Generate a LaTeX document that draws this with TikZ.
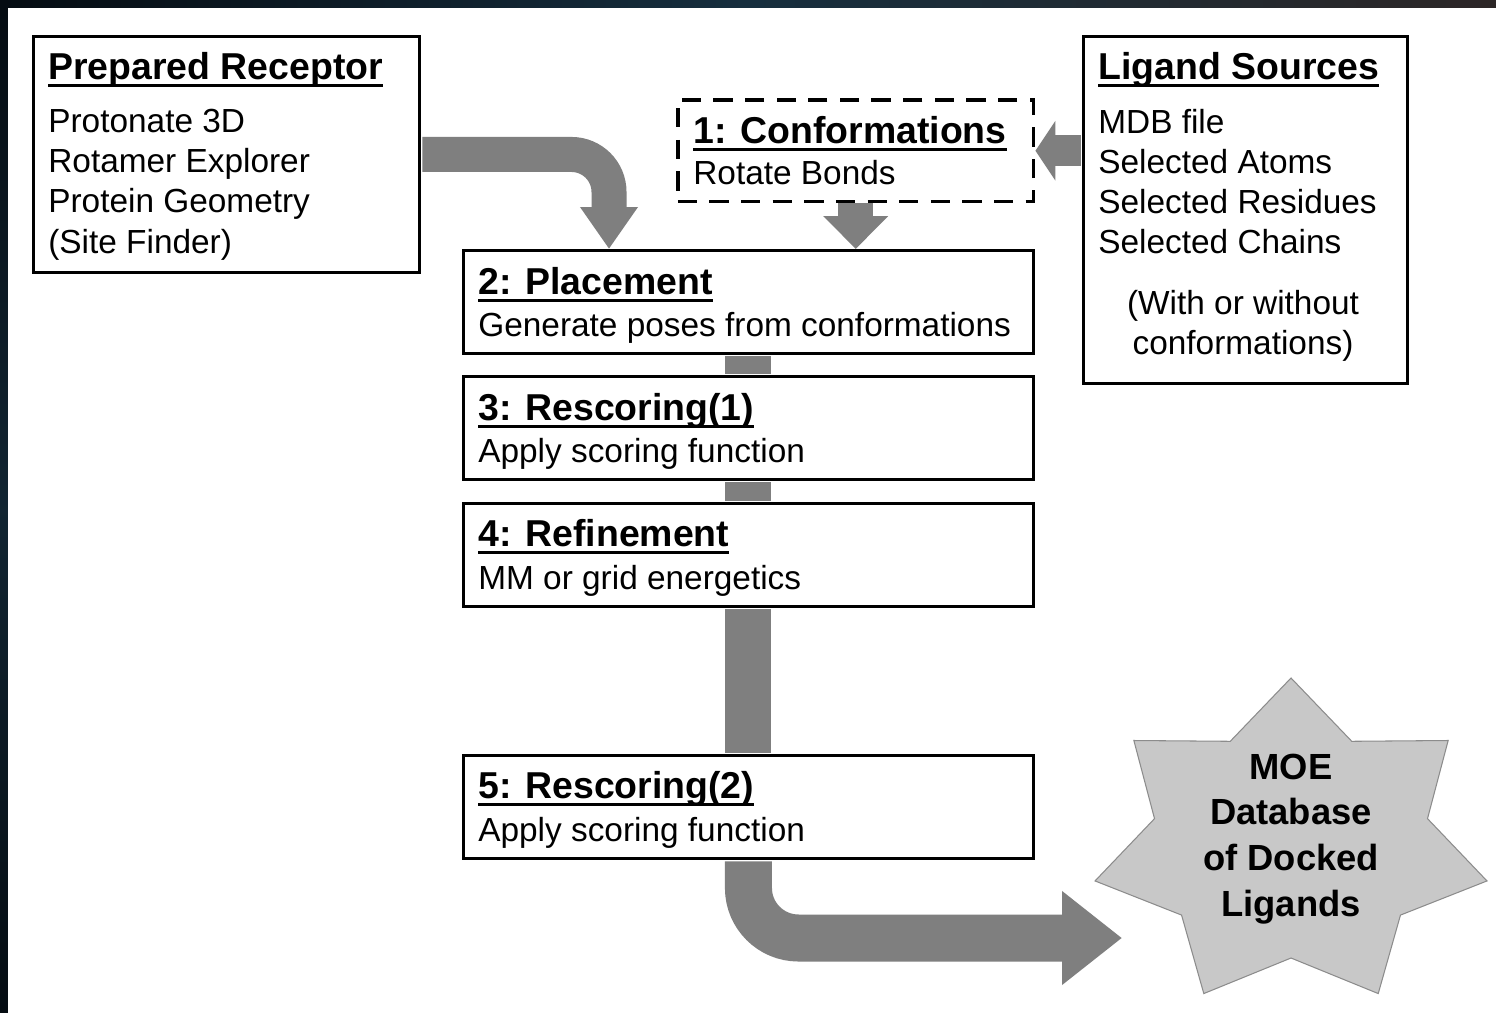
\documentclass[tikz,border=0pt]{standalone}
\usepackage{fontspec}
\setmainfont{Liberation Sans}
\usepackage{tikz}
\usetikzlibrary{arrows.meta, positioning}
\definecolor{flowgray}{RGB}{127,127,127}
\definecolor{stargray}{RGB}{200,200,200}
\definecolor{starline}{RGB}{140,140,140}
\definecolor{bgdark}{RGB}{5,12,18}
\definecolor{bgteal}{RGB}{22,46,62}
\definecolor{bgbrown}{RGB}{44,38,38}

% bold title with a heavy underline
\newcommand{\steptitle}[1]{\setbox0\hbox{#1}\rlap{\rule[-4.2pt]{\wd0}{1.8pt}}\box0}

\tikzset{
  box/.style={draw, line width=1.7pt, fill=white, anchor=north west, inner sep=0pt},
  dbox/.style={box, line width=2pt, dash pattern=on 11pt off 7pt},
  ttl/.style={anchor=north west, inner sep=0pt, font=\fontsize{21.3}{25}\selectfont\bfseries},
  txt/.style={anchor=north west, inner sep=0pt, align=left, font=\fontsize{19}{22.85}\selectfont},
  flow/.style={draw=flowgray, line width=0.7cm},
}

\begin{document}
\begin{tikzpicture}[x=0.02cm, y=-0.02cm]
\useasboundingbox (0,0) rectangle (1496,1013);
% dark frame
\shade[left color=bgdark, right color=bgbrown, middle color=bgteal] (0,0) rectangle (1496,8);
\shade[top color=bgdark, bottom color=bgdark, middle color=bgteal!80!black] (0,8) rectangle (8,1013);
\fill[white] (8,8) rectangle (1496,1013);

% boxes
\node[box, minimum width=7.72cm, minimum height=4.72cm] (recep) at (32,35) {};
\node[box, minimum width=6.48cm, minimum height=6.94cm] (lig) at (1082,35) {};
\node[dbox, minimum width=7.12cm, minimum height=2.04cm] (conf) at (676,98) {};
\node[box, minimum width=11.4cm, minimum height=2.06cm] (place) at (462,249) {};
\node[box, minimum width=11.4cm, minimum height=2.06cm] (rescA) at (462,375) {};
\node[box, minimum width=11.4cm, minimum height=2.06cm] (refine) at (462,502) {};
\node[box, minimum width=11.4cm, minimum height=2.06cm] (rescB) at (462,754) {};

% texts
\node[ttl] (recepT) at (48,52) {\steptitle{Prepared Receptor}};
\node[txt] (recepB) at (48,109) {Protonate 3D\\Rotamer Explorer\\Protein Geometry\\(Site Finder)};
\node[ttl] (ligT) at (1098,52) {\steptitle{Ligand Sources}};
\node[txt] (ligB) at (1098,109) {MDB file\\Selected Atoms\\Selected Residues\\Selected Chains};
\node[txt, anchor=north, align=center] (ligN) at (1243,290) {(With or without\\conformations)};
\node[ttl] (confT) at (693,116) {\steptitle{1: Conformations}};
\node[txt] (confB) at (693,160) {Rotate Bonds};
\node[ttl] (placeT) at (478,267) {\steptitle{2: Placement}};
\node[txt] (placeB) at (478,312) {Generate poses from conformations};
\node[ttl] (rescAT) at (478,393) {\steptitle{3: Rescoring(1)}};
\node[txt] (rescAB) at (478,438) {Apply scoring function};
\node[ttl] (refineT) at (478,519) {\steptitle{4: Refinement}};
\node[txt] (refineB) at (478,565) {MM or grid energetics};
\node[ttl] (rescBT) at (478,771) {\steptitle{5: Rescoring(2)}};
\node[txt] (rescBB) at (478,817) {Apply scoring function};

% star
\filldraw[fill=stargray, draw=starline, line width=0.6pt]
  plot[samples at={0,...,13}, variable=\k]
  ({1291+ifthenelse(mod(\k,2)==0,201,140)*cos(90+\k*180/7)},
   {844-ifthenelse(mod(\k,2)==0,166,114)*sin(90+\k*180/7)}) -- cycle;
\node[font=\fontsize{20.7}{26.1}\selectfont\bfseries, align=center] (db) at (1291,839)
  {MOE\\Database\\of Docked\\Ligands};

% flow arrows
\coordinate (recin) at (609,249);
\coordinate (dbin) at (1122,938);
\draw[flow, rounded corners=0.75cm, shorten <=0.85pt, -{Triangle[width=1.1cm, length=0.84cm]}]
  (recep.east) -| (recin);
\draw[flow, -{Triangle[width=1.26cm, length=0.66cm]}] (conf.south) -- (conf.south |- place.north);
\draw[flow, line width=0.62cm, shorten <=0.85pt, -{Triangle[width=1.18cm, length=0.4cm]}]
  (lig.west |- conf.east) -- (conf.east);
\draw[flow, line width=0.92cm, shorten <=0.85pt, shorten >=0.85pt] (place.south) -- (rescA.north);
\draw[flow, line width=0.92cm, shorten <=0.85pt, shorten >=0.85pt] (rescA.south) -- (refine.north);
\draw[flow, line width=0.92cm, shorten <=0.85pt, shorten >=0.85pt] (refine.south) -- (rescB.north);
\draw[flow, line width=0.94cm, rounded corners=1cm, shorten <=0.85pt, -{Triangle[width=1.8cm, length=1.2cm]}]
  (rescB.south) |- (dbin);
\end{tikzpicture}
\end{document}
